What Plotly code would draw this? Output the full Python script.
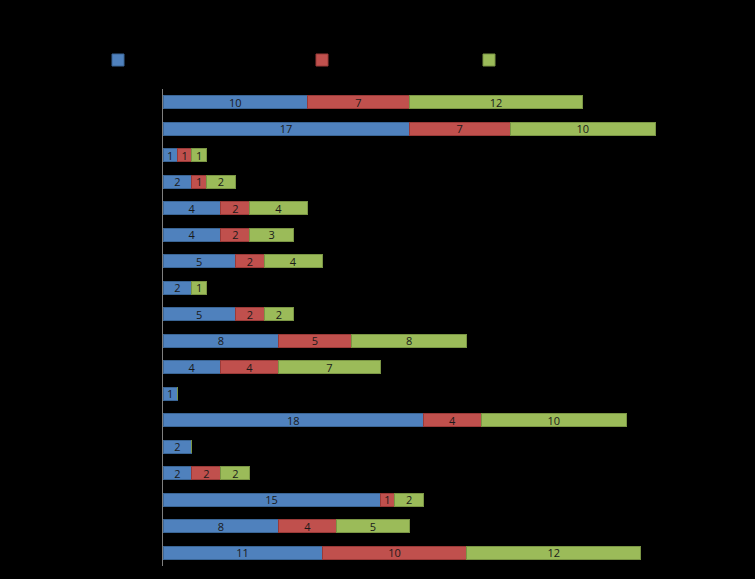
import plotly.graph_objects as go

categories = [f"Row {i}" for i in range(1, 19)]
series_names = ["Series 1", "Series 2", "Series 3"]
s1 = [10, 17, 1, 2, 4, 4, 5, 2, 5, 8, 4, 1, 18, 2, 2, 15, 8, 11]
s2 = [7, 7, 1, 1, 2, 2, 2, 0, 2, 5, 4, 0, 4, 0, 2, 1, 4, 10]
s3 = [12, 10, 1, 2, 4, 3, 4, 1, 2, 8, 7, 0, 10, 0, 2, 2, 5, 12]

fills = ["#4F81BD", "#C0504D", "#9BBB59"]
edges = ["#3A6595", "#9A3A38", "#7A9544"]
legends = ["legend", "legend2", "legend3"]

fig = go.Figure()
for name, vals, fc, ec, lg in zip(series_names, [s1, s2, s3], fills, edges, legends):
    fig.add_trace(go.Bar(
        y=categories, x=vals, orientation="h", name=name,
        marker=dict(color=fc, line=dict(color=ec, width=1)),
        text=[str(v) if v > 0 else "" for v in vals],
        textposition="inside", insidetextanchor="middle", textangle=0,
        constraintext="none",
        textfont=dict(family="Open Sans, Lato, sans-serif", size=11, color="#1a1a1a"),
        legend=lg, showlegend=True, hoverinfo="skip",
    ))

W, H = 755, 579
ml, mr, mt, mb = 163, 13, 89, 13

leg_common = dict(orientation="h", yanchor="middle", xanchor="left",
                  xref="container", yref="container",
                  font=dict(color="#000000", size=11, family="Open Sans"),
                  bgcolor="rgba(0,0,0,0)")
ly = 1 - 60 / H
fig.update_layout(
    width=W, height=H, showlegend=True,
    paper_bgcolor="#000000", plot_bgcolor="#000000",
    margin=dict(l=ml, r=mr, t=mt, b=mb),
    barmode="stack", bargap=0.5,
    xaxis=dict(range=[0, 40], showgrid=False, zeroline=False,
               showticklabels=False, ticks="", showline=False),
    yaxis=dict(autorange="reversed", showgrid=False, showticklabels=False,
               ticks="", showline=True, linecolor="#7f7f7f", linewidth=1),
    legend=dict(x=(117 - 19) / W, y=ly, **leg_common),
    legend2=dict(x=(321 - 19) / W, y=ly, **leg_common),
    legend3=dict(x=(488 - 19) / W, y=ly, **leg_common),
)

fig.write_html("out.html")
